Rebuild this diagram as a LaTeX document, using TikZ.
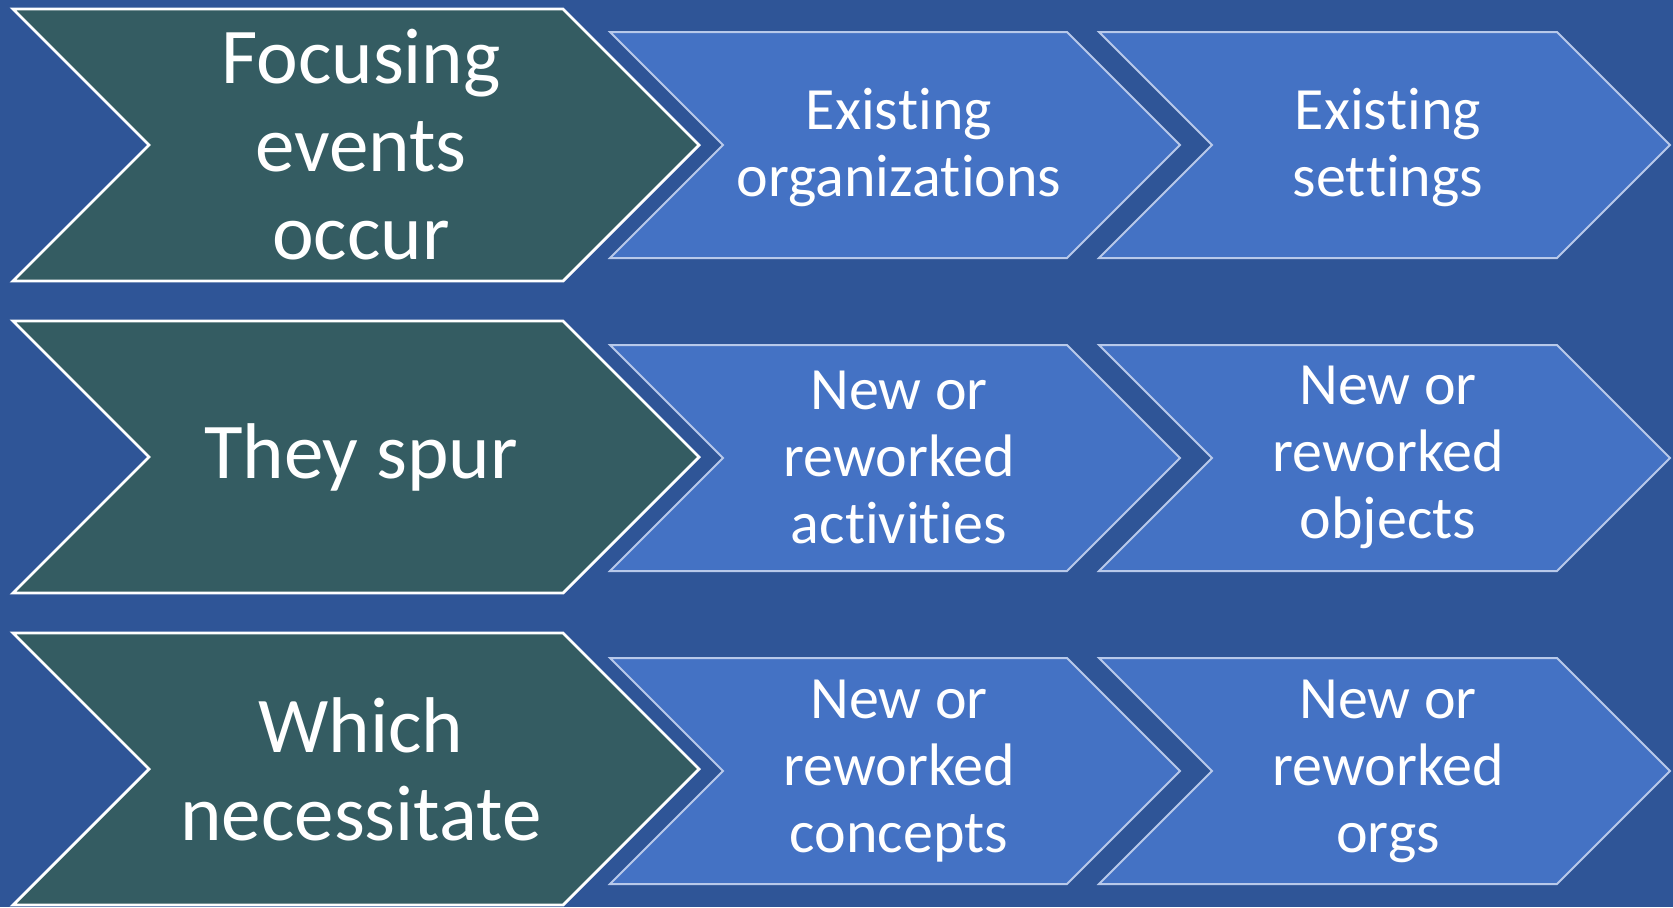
\documentclass[tikz,border=0pt]{standalone}
\usepackage{fontspec}
\setmainfont{Carlito}[Ligatures={NoCommon,NoContextual},RawFeature={-liga;-clig;-calt;-dlig;-rlig}]
\definecolor{bgblue}{HTML}{2F5597}
\definecolor{darkteal}{HTML}{345C62}
\definecolor{midblue}{HTML}{4472C4}
\definecolor{edgeblue}{HTML}{B8C9EA}
\newcommand\chevshape[5]{% style, left, top, tip, height
  \path[#1] (#2,#3) -- ({#4-#5/2},#3) -- (#4,{#3+#5/2}) -- ({#4-#5/2},{#3+#5})
    -- (#2,{#3+#5}) -- ({#2+#5/2},{#3+#5/2}) -- cycle;}
\tikzset{
  bigchev/.style={fill=darkteal,draw=white,line width=1.4pt,line join=miter},
  smallchev/.style={fill=midblue,draw=edgeblue,line width=1pt,line join=miter},
  bigtext/.style={text=white,align=center,font=\fontsize{39.5}{44}\selectfont,inner sep=0pt},
  smalltext/.style={text=white,align=center,font=\fontsize{30}{33.5}\selectfont,inner sep=0pt},
}
\begin{document}
\begin{tikzpicture}[x=0.5pt,y=-0.5pt]
\fill[bgblue] (0,0) rectangle (1673,907);
\useasboundingbox (0,0) rectangle (1673,907);
% row 1
\chevshape{bigchev}{13}{9}{699}{272}
\chevshape{smallchev}{610}{32}{1180}{226}
\chevshape{smallchev}{1099}{32}{1670}{226}
\node[bigtext] (a1) at (361,145) {Focusing\\events\\occur};
\node[smalltext] (b1) at (899,148) {Exis\kern0pt ting\\organiza\kern0pt tions};
\node[smalltext] (c1) at (1388,148) {Exis\kern0pt ting\\set\kern0pt tings};
% row 2
\chevshape{bigchev}{13}{321}{699}{272}
\chevshape{smallchev}{610}{345}{1180}{226}
\chevshape{smallchev}{1099}{345}{1670}{226}
\node[bigtext] (a2) at (361,457) {They spur};
\node[smalltext] (b2) at (899,457) {New or\\reworked\\ac\kern0pt tivi\kern0pt ties};
\node[smalltext] (c2) at (1388,457) {New or\\reworked\\objects};
% row 3
\chevshape{bigchev}{13}{633}{699}{272}
\chevshape{smallchev}{610}{658}{1180}{226}
\chevshape{smallchev}{1099}{658}{1670}{226}
\node[bigtext] (a3) at (361,769) {Which\\necessitate};
\node[smalltext] (b3) at (899,771) {New or\\reworked\\concepts};
\node[smalltext] (c3) at (1388,771) {New or\\reworked\\orgs};
\end{tikzpicture}
\end{document}
